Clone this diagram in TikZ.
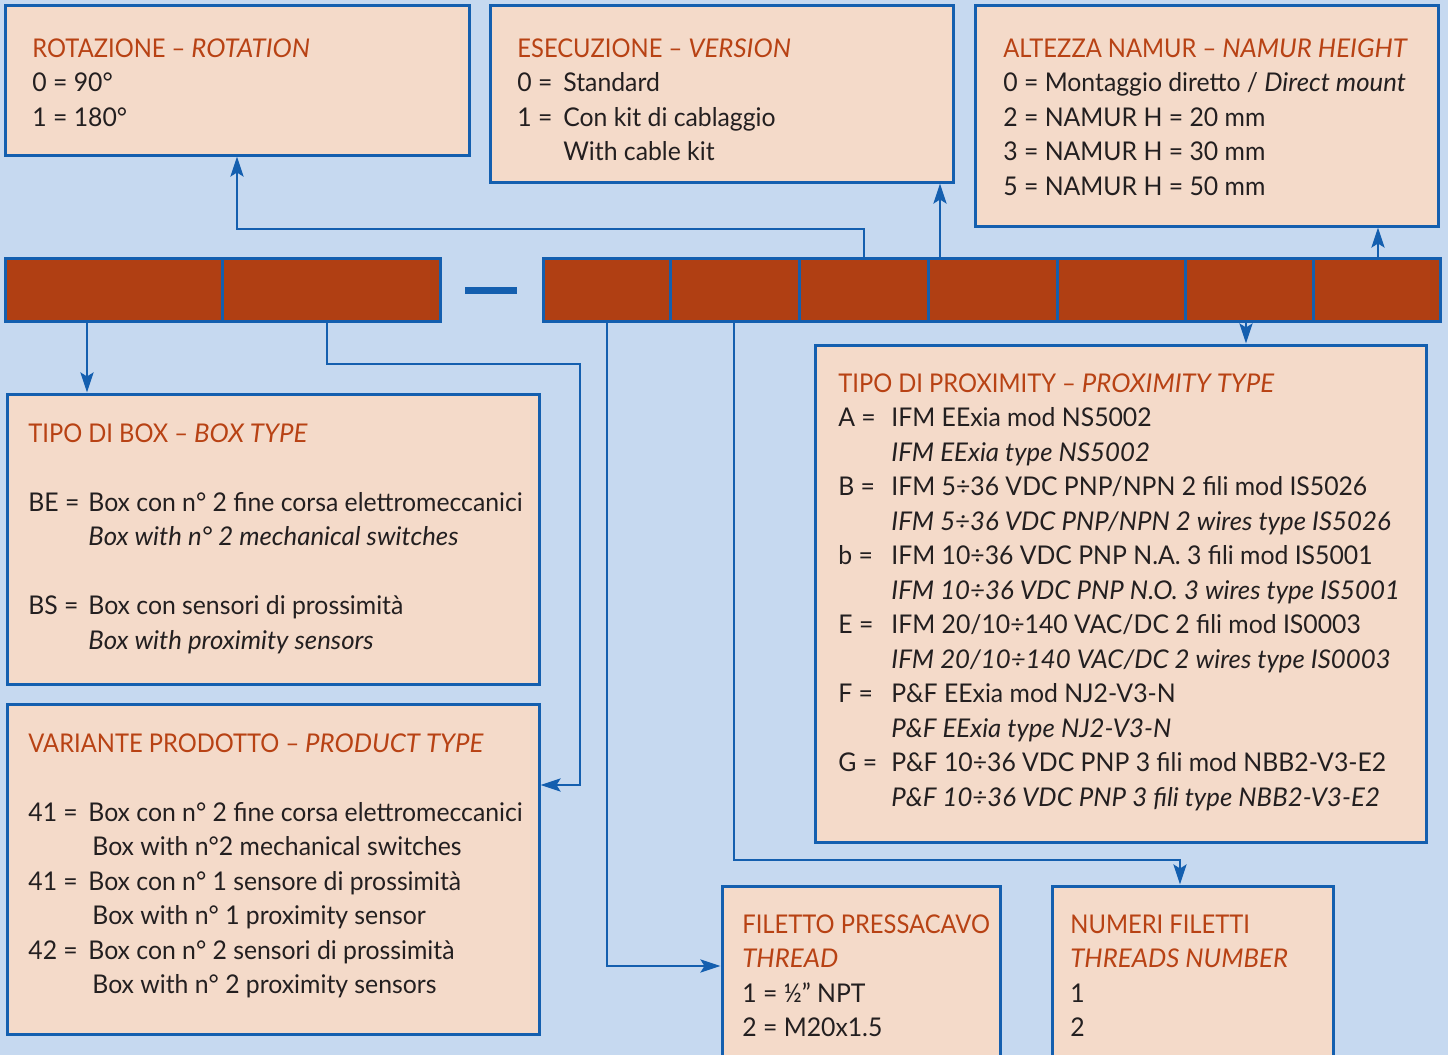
\documentclass[tikz,border=0pt]{standalone}
\usepackage{fontspec}
\setmainfont{Lato}[UprightFeatures={FakeStretch=0.96}]
\newfontfamily\ttlfont{Lato}[UprightFeatures={FakeStretch=0.92}]
\usetikzlibrary{fit,arrows.meta}
\definecolor{bgc}{RGB}{198,217,240}
\definecolor{boxc}{RGB}{244,218,201}
\definecolor{bluec}{RGB}{20,95,175}
\definecolor{cellc}{RGB}{176,63,19}
\definecolor{titlec}{RGB}{184,66,20}
\definecolor{textc}{RGB}{35,31,32}
\begin{document}
\begin{tikzpicture}[x=0.5pt,y=-0.5pt,
  infobox/.style={draw=bluec,fill=boxc,line width=1.5pt,inner sep=0pt},
  cell/.style={draw=bluec,fill=cellc,line width=1.5pt,inner sep=0pt},
  conn/.style={draw=bluec,line width=1.4pt,-{Stealth[length=10pt,width=6.5pt,inset=2pt]}},
  txt/.style={anchor=base west,inner sep=0pt,text=textc,font=\fontsize{12.9pt}{15pt}\selectfont},
  ttl/.style={txt,text=titlec,font=\fontsize{12.9pt}{15pt}\selectfont\ttlfont},
  itx/.style={txt,font=\fontsize{12.9pt}{15pt}\selectfont\itshape}]
\fill[bgc] (0,0) rectangle (1448,1055);
\clip (0,0) rectangle (1448,1055);
\useasboundingbox (0,0) rectangle (1448,1055);
% boxes
\node[infobox,fit={(5,5) (469,155)}] (rot) {};
\node[infobox,fit={(490,5) (953,182)}] (ex) {};
\node[infobox,fit={(975,5) (1438,226)}] (al) {};
\node[infobox,fit={(7,394) (539,684)}] (tb) {};
\node[infobox,fit={(7,704) (539,1034)}] (vt) {};
\node[infobox,fit={(815,345) (1426,842)}] (px) {};
\node[infobox,fit={(722,886) (1000,1075)}] (fi) {};
\node[infobox,fit={(1052,886) (1333,1075)}] (nu) {};
% code cells
\node[cell,fit={(5,258) (222,321)}] (L1) {};
\node[cell,fit={(222,258) (440,321)}] (L2) {};
\node[cell,fit={(543,258) (670,321)}] (R1) {};
\node[cell,fit={(670,258) (799,321)}] (R2) {};
\node[cell,fit={(799,258) (928,321)}] (R3) {};
\node[cell,fit={(928,258) (1057,321)}] (R4) {};
\node[cell,fit={(1057,258) (1185,321)}] (R5) {};
\node[cell,fit={(1185,258) (1313,321)}] (R6) {};
\node[cell,fit={(1313,258) (1440,321)}] (R7) {};
\coordinate (d1) at (465,290);
\coordinate (d2) at (517,290);
\draw[bluec,line width=3.5pt] (d1) -- (d2);
% connector helper coordinates
\coordinate (a1) at (87,0);
\coordinate (k2a) at (327,364);
\coordinate (k2b) at (580,364);
\coordinate (k2c) at (580,785);
\coordinate (k3a) at (864,229);
\coordinate (k3b) at (237,229);
\coordinate (k4) at (940,0);
\coordinate (k5) at (1378,0);
\coordinate (k6) at (1246,0);
\coordinate (k7a) at (607,966);
\coordinate (k8a) at (734,860);
\coordinate (k8b) at (1180,860);
% connectors
\draw[conn] (L1.south -| a1) -- (tb.north -| a1);
\draw[conn] (L2.south -| k2a) -- (k2a) -- (k2b) -- (k2c) -- (vt.east |- k2c);
\draw[conn] (R3.north -| k3a) -- (k3a) -- (k3b) -- (rot.south -| k3b);
\draw[conn] (R4.north -| k4) -- (ex.south -| k4);
\draw[conn] (R7.north -| k5) -- (al.south -| k5);
\draw[conn] (R6.south -| k6) -- (px.north -| k6);
\draw[conn] (R1.south -| k7a) -- (k7a) -- (fi.west |- k7a);
\draw[conn] (R2.south -| k8a) -- (k8a) -- (k8b) -- (nu.north -| k8b);
% ROTAZIONE
\node[ttl] (rt) at (32,57) {ROTAZIONE – \textit{ROTATION}};
\node[txt] (r0) at (32,91) {0 = 90°};
\node[txt] (r1) at (32,126) {1 = 180°};
% ESECUZIONE
\node[ttl] (et) at (517,57) {ESECUZIONE – \textit{VERSION}};
\node[txt] (e0l) at (517,91) {0 =};
\node[txt] (e0) at (563,91) {Standard};
\node[txt] (e1l) at (517,126) {1 =};
\node[txt] (e1) at (563,126) {Con kit di cablaggio};
\node[txt] (e1b) at (563,160) {With cable kit};
% ALTEZZA
\node[ttl] (at) at (1003,57) {ALTEZZA NAMUR – \textit{NAMUR HEIGHT}};
\node[txt] (a0) at (1003,91) {0 = Montaggio diretto / \textit{Direct mount}};
\node[txt] (a2) at (1003,126) {2 = NAMUR H = 20 mm};
\node[txt] (a3) at (1003,160) {3 = NAMUR H = 30 mm};
\node[txt] (a5) at (1003,195) {5 = NAMUR H = 50 mm};
% TIPO DI BOX
\node[ttl] (bt) at (28,442) {TIPO DI BOX – \textit{BOX TYPE}};
\node[txt] (bel) at (28,511) {BE =};
\node[txt] (be) at (88,511) {Box con n° 2 fine corsa elettromeccanici};
\node[itx] (bei) at (88,545) {Box with n° 2 mechanical switches};
\node[txt] (bsl) at (28,614) {BS =};
\node[txt] (bs) at (88,614) {Box con sensori di prossimità};
\node[itx] (bsi) at (88,649) {Box with proximity sensors};
% VARIANTE
\node[ttl] (vtt) at (28,752) {VARIANTE PRODOTTO – \textit{PRODUCT TYPE}};
\node[txt] (v1l) at (28,821) {41 =};
\node[txt] (v1) at (88,821) {Box con n° 2 fine corsa elettromeccanici};
\node[txt] (v1e) at (92,855) {Box with n°2 mechanical switches};
\node[txt] (v2l) at (28,890) {41 =};
\node[txt] (v2) at (88,890) {Box con n° 1 sensore di prossimità};
\node[txt] (v2e) at (92,924) {Box with n° 1 proximity sensor};
\node[txt] (v3l) at (28,959) {42 =};
\node[txt] (v3) at (88,959) {Box con n° 2 sensori di prossimità};
\node[txt] (v3e) at (92,993) {Box with n° 2 proximity sensors};
% PROXIMITY
\node[ttl] (pt) at (838,392) {TIPO DI PROXIMITY – \textit{PROXIMITY TYPE}};
\node[txt] (pal) at (838,426) {A =};
\node[txt] (pa) at (891,426) {IFM EExia mod NS5002};
\node[itx] (pai) at (891,461) {IFM EExia type NS5002};
\node[txt] (pbl) at (838,495) {B =};
\node[txt] (pb) at (891,495) {IFM 5÷36 VDC PNP/NPN 2 fili mod IS5026};
\node[itx] (pbi) at (891,530) {IFM 5÷36 VDC PNP/NPN 2 wires type IS5026};
\node[txt] (pcl) at (838,564) {b =};
\node[txt] (pc) at (891,564) {IFM 10÷36 VDC PNP N.A. 3 fili mod IS5001};
\node[itx] (pci) at (891,599) {IFM 10÷36 VDC PNP N.O. 3 wires type IS5001};
\node[txt] (pel) at (838,633) {E =};
\node[txt] (pe) at (891,633) {IFM 20/10÷140 VAC/DC 2 fili mod IS0003};
\node[itx] (pei) at (891,668) {IFM 20/10÷140 VAC/DC 2 wires type IS0003};
\node[txt] (pfl) at (838,702) {F =};
\node[txt] (pf) at (891,702) {P\&F EExia mod NJ2-V3-N};
\node[itx] (pfi) at (891,737) {P\&F EExia type NJ2-V3-N};
\node[txt] (pgl) at (838,771) {G =};
\node[txt] (pg) at (891,771) {P\&F 10÷36 VDC PNP 3 fili mod NBB2-V3-E2};
\node[itx] (pgi) at (891,806) {P\&F 10÷36 VDC PNP 3 fili type NBB2-V3-E2};
% FILETTO
\node[ttl] (ft) at (742,933) {FILETTO PRESSACAVO};
\node[ttl] (ft2) at (742,967) {\textit{THREAD}};
\node[txt] (f1) at (742,1002) {1 = ½” NPT};
\node[txt] (f2) at (742,1036) {2 = M20x1.5};
% NUMERI
\node[ttl] (nt) at (1070,933) {NUMERI FILETTI};
\node[ttl] (nt2) at (1070,967) {\textit{THREADS NUMBER}};
\node[txt] (n1) at (1070,1002) {1};
\node[txt] (n2) at (1070,1036) {2};
\end{tikzpicture}
\end{document}
